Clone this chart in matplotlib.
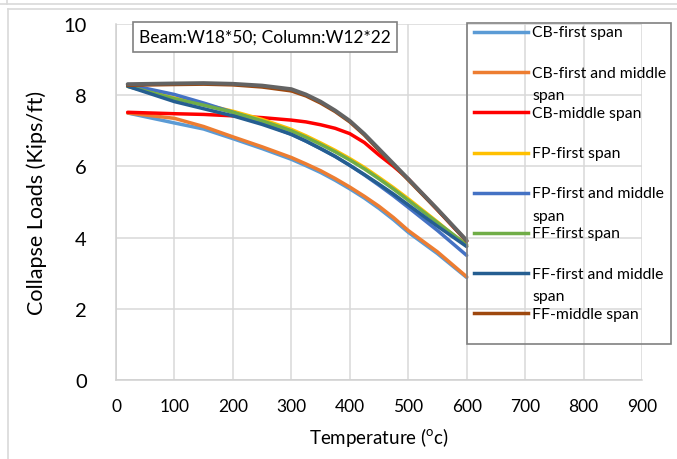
import matplotlib
matplotlib.use("Agg")
import matplotlib.pyplot as plt
from matplotlib.lines import Line2D
from matplotlib.patches import Rectangle

plt.rcParams['font.family'] = ['Lato', 'DejaVu Sans']

temps = [20, 100, 150, 200, 250, 300, 325, 350, 375, 400, 425, 450, 475, 500, 550, 600]

cb_first = [7.50, 7.22, 7.05, 6.78, 6.50, 6.20, 6.02, 5.83, 5.61, 5.37, 5.11, 4.82, 4.50, 4.15, 3.55, 2.88]
cb_first_middle = [7.50, 7.35, 7.12, 6.83, 6.55, 6.25, 6.07, 5.88, 5.66, 5.42, 5.16, 4.88, 4.56, 4.20, 3.60, 2.90]
cb_middle = [7.52, 7.48, 7.46, 7.42, 7.37, 7.30, 7.25, 7.17, 7.07, 6.92, 6.67, 6.32, 6.00, 5.65, 4.78, 3.90]
fp_first = [8.25, 7.92, 7.74, 7.55, 7.32, 7.04, 6.86, 6.66, 6.45, 6.22, 5.97, 5.69, 5.40, 5.09, 4.44, 3.76]
fp_first_middle = [8.30, 8.02, 7.78, 7.52, 7.22, 6.90, 6.71, 6.50, 6.28, 6.03, 5.76, 5.47, 5.17, 4.85, 4.20, 3.50]
ff_first = [8.25, 7.90, 7.72, 7.52, 7.28, 7.00, 6.82, 6.62, 6.41, 6.18, 5.93, 5.65, 5.36, 5.05, 4.42, 3.80]
ff_first_middle = [8.25, 7.82, 7.62, 7.42, 7.18, 6.90, 6.71, 6.50, 6.28, 6.03, 5.77, 5.50, 5.22, 4.92, 4.32, 3.75]
ff_middle = [8.28, 8.30, 8.31, 8.29, 8.23, 8.12, 7.98, 7.78, 7.54, 7.25, 6.88, 6.45, 6.04, 5.62, 4.78, 3.90]
extra_gray = [8.31, 8.33, 8.34, 8.32, 8.27, 8.17, 8.02, 7.82, 7.57, 7.28, 6.91, 6.49, 6.07, 5.65, 4.80, 3.92]

labels = ["CB-first span", "CB-first and middle\nspan", "CB-middle span", "FP-first span",
          "FP-first and middle\nspan", "FF-first span", "FF-first and middle\nspan", "FF-middle span"]
series = [cb_first, cb_first_middle, cb_middle, fp_first, fp_first_middle, ff_first,
          ff_first_middle, ff_middle]
colors = ["#5B9BD5", "#ED7D31", "#FF0000", "#FFC000", "#4472C4", "#70AD47", "#255E91", "#9E480E"]

x_ticks = [0, 100, 200, 300, 400, 500, 600, 700, 800, 900]
y_ticks = [0, 2, 4, 6, 8, 10]

W, H = 677, 460
fig = plt.figure(figsize=(W / 100, H / 100), dpi=100)
fig.patch.set_facecolor("white")

# page frame lines
fig.add_artist(Line2D([0, 1], [1 - 5 / H, 1 - 5 / H], transform=fig.transFigure, color="#d9d9d9", lw=1.2))
fig.add_artist(Line2D([7 / W, 7 / W], [1, 1 - 5 / H], transform=fig.transFigure, color="#d9d9d9", lw=1.2))
fig.add_artist(Line2D([8 / W, 1], [1 - 10 / H, 1 - 10 / H], transform=fig.transFigure, color="#d9d9d9", lw=1.2))
fig.add_artist(Line2D([8 / W, 8 / W], [1 - 10 / H, 0], transform=fig.transFigure, color="#d9d9d9", lw=1.2))

ax = fig.add_axes([116 / W, 1 - 381 / H, (642 - 116) / W, (381 - 25) / H])
ax.set_xlim(0, 900)
ax.set_ylim(0, 10)
ax.set_xticks(x_ticks)
ax.set_yticks(y_ticks)
ax.grid(True, color="#d9d9d9", lw=1.1)
ax.set_axisbelow(True)
for s in ["top", "right"]:
    ax.spines[s].set_visible(False)
for s in ["left", "bottom"]:
    ax.spines[s].set_color("#d0d0d0")
    ax.spines[s].set_linewidth(1.1)
ax.tick_params(length=0)
ax.tick_params(axis="x", labelsize=12.5, pad=13)
ax.tick_params(axis="y", labelsize=14.5, pad=21)

for ys, c in zip(series, colors):
    ax.plot(temps, ys, color=c, lw=2.5, solid_capstyle="round", solid_joinstyle="round")
ax.plot(temps, extra_gray, color="#636363", lw=2.8, solid_capstyle="round", solid_joinstyle="round")

ax.set_xlabel("Temperature (${}^{\\mathregular{o}}$c)", fontsize=13.5, labelpad=8)
ax.set_ylabel("Collapse Loads (Kips/ft)", fontsize=15.5, labelpad=12)

# title box
fig.add_artist(Rectangle((133 / W, 1 - 53 / H), (397 - 133) / W, 30 / H,
                         transform=fig.transFigure, fc="white", ec="#808080", lw=1.2, zorder=3))
fig.text(265 / W, 1 - 38 / H, "Beam:W18*50; Column:W12*22", fontsize=12.5,
         va="center", ha="center", zorder=4)

# legend (manual, transparent)
lx0, lx1, ly0, ly1 = 467, 671, 24, 345
fig.add_artist(Rectangle((lx0 / W, 1 - ly1 / H), (lx1 - lx0) / W, (ly1 - ly0) / H,
                         transform=fig.transFigure, fill=False, ec="#808080", lw=1.2))
for i, (lab, c) in enumerate(zip(labels, colors)):
    yy = 33 + i * 40.2
    fig.add_artist(Line2D([474 / W, 528 / W], [1 - yy / H, 1 - yy / H], transform=fig.transFigure,
                          color=c, lw=2.5))
    fig.text(532 / W, 1 - (yy - 6.5) / H, lab, fontsize=11.3, va="top", ha="left", linespacing=1.75)

fig.savefig("out.png", dpi=100)
